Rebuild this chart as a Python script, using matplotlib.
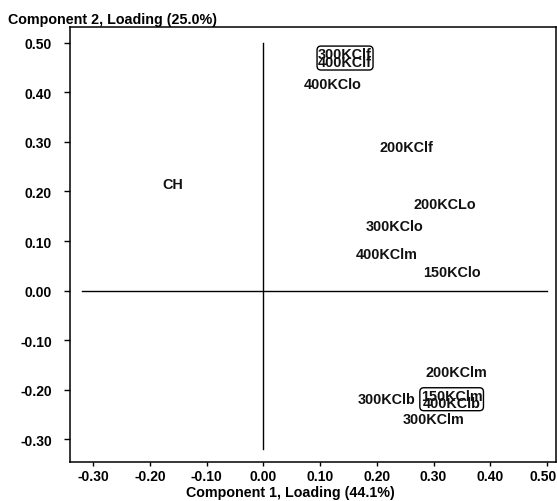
import matplotlib
matplotlib.use("Agg")
import matplotlib.pyplot as plt
from matplotlib.patches import FancyBboxPatch
from matplotlib.transforms import Bbox, ScaledTranslation

# Data: variable loadings (component 1, component 2)
labels = ["CH", "300KClf", "400KClf", "400KClo", "200KClf", "200KCLo",
          "300KClo", "400KClm", "150KClo", "200KClm", "300KClb",
          "150KClm", "400KClb", "300KClm"]
comp1 = [-0.159, 0.144, 0.144, 0.123, 0.253, 0.320,
         0.232, 0.218, 0.332, 0.341, 0.218,
         0.332, 0.332, 0.300]
comp2 = [0.215, 0.477, 0.461, 0.417, 0.289, 0.175,
         0.131, 0.074, 0.037, -0.165, -0.218,
         -0.212, -0.226, -0.259]
boxed_groups = [["300KClf", "400KClf"], ["150KClm", "400KClb"]]
xticks = [-0.30, -0.20, -0.10, 0.00, 0.10, 0.20, 0.30, 0.40, 0.50]
yticks = [-0.30, -0.20, -0.10, 0.00, 0.10, 0.20, 0.30, 0.40, 0.50]

plt.rcParams['font.family'] = ['Liberation Sans', 'DejaVu Sans']
plt.rcParams['font.weight'] = 'bold'

fig = plt.figure(figsize=(5.57, 5.02), dpi=100)
ax = fig.add_axes([70/557, 1-462.7/502, (556-70)/557, (462.7-28.3)/502])
ax.set_xlim(-0.341, 0.516)
ax.set_ylim(-0.345, 0.531)

ax.plot([-0.32, 0.50], [0, 0], color='black', lw=1.0)
ax.plot([0, 0], [-0.32, 0.50], color='black', lw=1.0)

texts = {}
for lab, x, y in zip(labels, comp1, comp2):
    texts[lab] = ax.text(x, y, lab, ha='center', va='center', fontsize=10.4,
                         fontweight='bold', color='#111111')

ax.set_xticks(xticks)
ax.set_yticks(yticks)
ax.set_xticklabels([f"{t:.2f}" for t in xticks])
ax.set_yticklabels([f"{t:.2f}" for t in yticks])
ax.tick_params(axis='y', direction='out', length=4, width=1, labelsize=10, pad=9)
ax.tick_params(axis='x', direction='out', length=3, width=1, labelsize=10, pad=2)
for lbl in ax.get_xticklabels() + ax.get_yticklabels():
    lbl.set_fontweight('bold')
last = ax.get_xticklabels()[-1]
last.set_transform(last.get_transform() + ScaledTranslation(-4/100, 0, fig.dpi_scale_trans))
for s in ax.spines.values():
    s.set_linewidth(1.1)

fig.text(8/557, 1-24/502, "Component 2, Loading (25.0%)", fontsize=10.3,
         fontweight='bold', ha='left', va='baseline')
fig.text(290/557, 1-497/502, "Component 1, Loading (44.1%)", fontsize=10.3,
         fontweight='bold', ha='center', va='baseline')

fig.canvas.draw()
r = fig.canvas.get_renderer()
for grp in boxed_groups:
    bbs = [texts[g].get_window_extent(r) for g in grp]
    bb = Bbox.union(bbs)
    p = FancyBboxPatch((bb.x0 - 1, bb.y0 - 1), bb.width + 2, bb.height + 2,
                       boxstyle="round,pad=0,rounding_size=4",
                       transform=None, fill=False, edgecolor='black', lw=1.0)
    fig.patches.append(p)
    p.set_figure(fig)

fig.savefig("out.png", dpi=100)
